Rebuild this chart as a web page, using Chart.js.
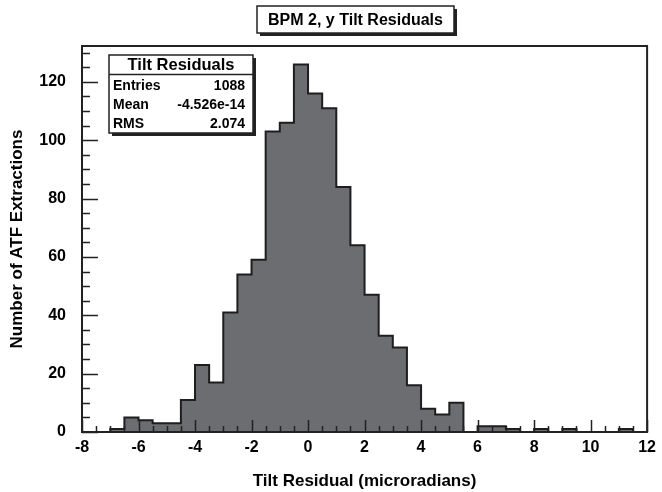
<!DOCTYPE html>
<html>
<head>
<meta charset="utf-8">
<script src="https://cdn.jsdelivr.net/npm/chart.js@4.4.0/dist/chart.umd.min.js"></script>
<style>
  html, body { margin: 0; padding: 0; background: #fff; }
  #wrap { width: 662px; height: 492px; }
</style>
</head>
<body>
<div id="wrap"><canvas id="hist"></canvas></div>
<script>

// histogram bins: 40 bins of 0.5 from -8 to 12
const binEdges = [-8, -7.5, -7, -6.5, -6, -5.5, -5, -4.5, -4, -3.5, -3, -2.5, -2, -1.5, -1, -0.5,
  0, 0.5, 1, 1.5, 2, 2.5, 3, 3.5, 4, 4.5, 5, 5.5, 6, 6.5, 7, 7.5, 8, 8.5, 9, 9.5, 10, 10.5, 11, 11.5, 12];
const counts = [0, 0, 1, 5, 4, 3, 3, 11, 23, 17, 41, 54, 59, 103, 106, 126,
  116, 111, 84, 64, 47, 33, 29, 16, 8, 6, 10, 0, 2, 2, 1, 0, 1, 0, 1, 0, 0, 0, 1, 0];

const xTickValues = [-8, -6, -4, -2, 0, 2, 4, 6, 8, 10, 12];
const yTickValues = [0, 20, 40, 60, 80, 100, 120];

const histTitle = 'BPM 2, y Tilt Residuals';
const statsTitle = 'Tilt Residuals';
const statsLabels = ['Entries', 'Mean', 'RMS'];
const statsValues = ['1088', '-4.526e-14', '2.074'];

const FONT = '"Liberation Sans", Arial, Helvetica, sans-serif';

// step outline: each edge carries the count of the bin that starts there
const points = binEdges.map((e, i) => ({ x: e, y: counts[Math.min(i, counts.length - 1)] }));

const rootStyle = {
  id: 'rootStyle',
  afterDatasetsDraw(chart) {
    const { ctx, chartArea: a, scales: { x, y } } = chart;
    ctx.save();
    ctx.strokeStyle = '#222';
    ctx.lineWidth = 1.5;
    ctx.beginPath();
    // x ticks, pointing up into the pad
    for (let v = x.min; v <= x.max + 1e-6; v += 0.5) {
      const px = Math.round(x.getPixelForValue(v)) + 0.5;
      const len = Math.abs(v % 2) < 1e-6 ? 12 : 6;
      ctx.moveTo(px, a.bottom);
      ctx.lineTo(px, a.bottom - len);
    }
    // y ticks, pointing right
    for (let v = 0; v <= y.max; v += 5) {
      const py = Math.round(y.getPixelForValue(v)) + 0.5;
      const len = v % 20 === 0 ? 16 : 8;
      ctx.moveTo(a.left, py);
      ctx.lineTo(a.left + len, py);
    }
    ctx.stroke();

    // frame
    ctx.lineWidth = 2;
    ctx.strokeStyle = '#222';
    ctx.strokeRect(a.left, a.top, a.right - a.left, a.bottom - a.top);

    // title box
    const tb = { l: 257, t: 6, r: 454, b: 33 };
    ctx.fillStyle = '#222';
    ctx.fillRect(tb.l + 3, tb.t + 3, tb.r - tb.l, tb.b - tb.t);
    ctx.fillStyle = '#fff';
    ctx.fillRect(tb.l, tb.t, tb.r - tb.l, tb.b - tb.t);
    ctx.lineWidth = 1.5;
    ctx.strokeRect(tb.l, tb.t, tb.r - tb.l, tb.b - tb.t);
    ctx.fillStyle = '#000';
    ctx.font = 'bold 16px ' + FONT;
    ctx.textAlign = 'center';
    ctx.textBaseline = 'middle';
    ctx.fillText(histTitle, (tb.l + tb.r) / 2, (tb.t + tb.b) / 2 + 1);

    // stats box
    const sb = { l: 109, t: 55, r: 253, b: 133 };
    ctx.fillStyle = '#222';
    ctx.fillRect(sb.l + 3, sb.t + 3, sb.r - sb.l, sb.b - sb.t);
    ctx.fillStyle = '#fff';
    ctx.fillRect(sb.l, sb.t, sb.r - sb.l, sb.b - sb.t);
    ctx.strokeRect(sb.l, sb.t, sb.r - sb.l, sb.b - sb.t);
    ctx.beginPath();
    ctx.moveTo(sb.l, 74.5);
    ctx.lineTo(sb.r, 74.5);
    ctx.stroke();
    ctx.fillStyle = '#000';
    ctx.font = 'bold 16.5px ' + FONT;
    ctx.fillText(statsTitle, (sb.l + sb.r) / 2, 65.5);
    ctx.font = 'bold 14px ' + FONT;
    statsLabels.forEach((lab, i) => {
      const ty = 86 + i * 19;
      ctx.textAlign = 'left';
      ctx.fillText(lab, sb.l + 4, ty);
      ctx.textAlign = 'right';
      ctx.fillText(statsValues[i], sb.r - 8, ty);
    });
    ctx.restore();
  }
};

new Chart(document.getElementById('hist'), {
  type: 'line',
  data: {
    datasets: [{
      label: statsTitle,
      data: points,
      stepped: 'before',
      fill: 'origin',
      backgroundColor: '#6c6d71',
      borderColor: '#1e1e1e',
      borderWidth: 2,
      pointRadius: 0
    }]
  },
  options: {
    responsive: true,
    maintainAspectRatio: false,
    animation: false,
    devicePixelRatio: 1,
    layout: { padding: { top: 46, right: 9, left: 0, bottom: 0 } },
    plugins: {
      legend: { display: false },
      tooltip: { enabled: false }
    },
    scales: {
      x: {
        type: 'linear',
        min: -8,
        max: 12,
        afterBuildTicks: s => { s.ticks = xTickValues.map(v => ({ value: v })); },
        afterFit: s => { s.height = 60; },
        grid: { display: false, drawTicks: false },
        border: { display: true, color: '#222', width: 2 },
        ticks: {
          color: '#000',
          padding: 6,
          maxRotation: 0,
          font: { family: FONT, size: 16, weight: 'bold' }
        },
        title: {
          display: true,
          text: 'Tilt Residual (microradians)',
          color: '#000',
          padding: { bottom: 0 },
          font: { family: FONT, size: 17, weight: 'bold' }
        }
      },
      y: {
        min: 0,
        max: 132.3,
        afterBuildTicks: s => { s.ticks = yTickValues.map(v => ({ value: v })); },
        afterFit: s => { s.width = 82; },
        grid: { display: false, drawTicks: false },
        border: { display: true, color: '#222', width: 2 },
        ticks: {
          color: '#000',
          padding: 16,
          font: { family: FONT, size: 16, weight: 'bold' }
        },
        title: {
          display: true,
          text: 'Number of ATF Extractions',
          color: '#000',
          padding: { top: 7 },
          font: { family: FONT, size: 17, weight: 'bold' }
        }
      }
    }
  },
  plugins: [rootStyle]
});
</script>
</body>
</html>
